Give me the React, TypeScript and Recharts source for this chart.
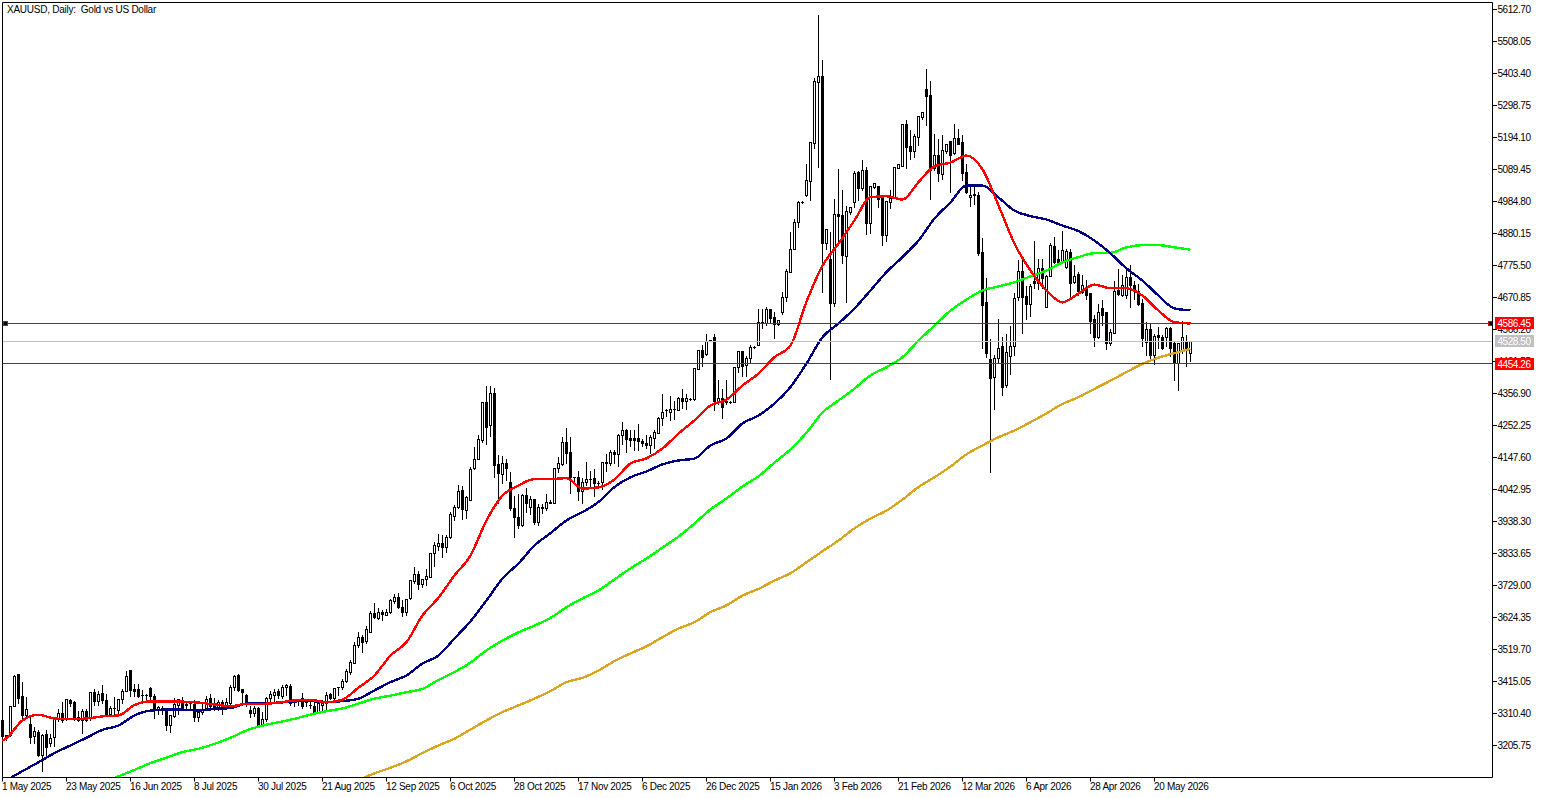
import { Bar, ComposedChart, Line, ReferenceLine, XAxis, YAxis } from "recharts";

const opens = [
  3287,3238,3238,3334,3437,3366,3304,3274,3235,3247,
  3173,3241,3213,3231,3293,3312,3293,3353,3347,3298,
  3287,3318,3293,3380,3351,3375,3353,3307,3326,3320,
  3355,3383,3451,3388,3388,3370,3370,3393,3367,3323,
  3323,3326,3271,3300,3336,3353,3336,3342,3340,3298,
  3315,3326,3361,3342,3329,3345,3336,3342,3394,3435,
  3388,3369,3320,3311,3328,3274,3290,3361,3369,3383,
  3366,3396,3399,3355,3351,3361,3353,3336,3334,3315,
  3336,3342,3372,3361,3393,3396,3416,3446,3475,3533,
  3560,3547,3576,3636,3620,3640,3631,3642,3678,3689,
  3656,3640,3686,3742,3764,3732,3749,3756,3833,3858,
  3865,3854,3887,3955,3983,4040,3974,4007,4110,4142,
  4203,4329,4252,4356,4125,4092,4127,4067,3980,3950,
  3925,4023,3985,4009,3936,3980,3980,4002,3996,4111,
  4125,4196,4163,4083,4081,4037,4067,4075,4078,4062,
  4067,4127,4127,4165,4156,4220,4236,4209,4209,4209,
  4201,4195,4187,4211,4227,4274,4299,4296,4303,4301,
  4339,4332,4337,4337,4437,4497,4484,4530,4539,4332,
  4339,4331,4329,4329,4443,4494,4448,4470,4507,4514,
  4590,4585,4630,4604,4583,4621,4670,4754,4827,4915,
  4983,5004,5051,5176,5375,5394,4846,4794,4652,4941,
  4939,4806,4950,4983,5081,5026,5086,4914,5029,5034,
  4996,4874,4983,4999,5094,5100,5235,5165,5149,5195,
  5258,5350,5331,5092,5134,5073,5149,5180,5143,5190,
  5177,5079,4997,5004,5004,4817,4653,4467,4410,4470,
  4511,4383,4479,4512,4670,4756,4674,4648,4723,4718,
  4765,4637,4740,4838,4794,4790,4768,4819,4721,4745,
  4688,4696,4683,4598,4541,4634,4621,4522,4554,4694,
  4677,4677,4735,4710,4692,4650,4525,4565,4481,4547,
  4541,4541,4568,4522,4456,4498,4523,4487,
];

const highs = [
  3290,3238,3336,3437,3437,3413,3364,3304,3266,3257,
  3242,3257,3244,3298,3326,3347,3358,3358,3350,3318,
  3326,3326,3382,3391,3385,3402,3375,3336,3364,3358,
  3391,3449,3451,3407,3407,3388,3375,3396,3375,3336,
  3336,3326,3307,3361,3358,3364,3351,3347,3353,3320,
  3342,3369,3375,3361,3353,3353,3361,3402,3435,3440,
  3391,3375,3336,3336,3331,3315,3364,3385,3391,3391,
  3402,3407,3407,3358,3358,3377,3358,3355,3353,3353,
  3353,3380,3377,3393,3396,3424,3457,3486,3544,3576,
  3566,3598,3647,3671,3656,3650,3653,3685,3702,3705,
  3680,3685,3748,3789,3776,3751,3784,3835,3871,3896,
  3893,3893,3969,3991,4059,4056,4023,4118,4181,4220,
  4329,4380,4380,4375,4157,4151,4143,4100,4023,4029,
  4027,4048,4023,4012,3996,3996,4027,4007,4114,4149,
  4214,4245,4214,4085,4105,4081,4132,4105,4111,4072,
  4132,4160,4173,4173,4225,4265,4241,4236,4236,4258,
  4209,4220,4220,4236,4279,4354,4307,4350,4334,4345,
  4372,4356,4343,4441,4500,4514,4550,4532,4550,4402,
  4372,4402,4334,4445,4497,4497,4481,4514,4511,4632,
  4634,4641,4634,4623,4598,4688,4765,4884,4928,4988,
  4988,5108,5179,5389,5596,5448,4892,4884,4994,5092,
  5024,4970,4968,5086,5084,5119,5099,5037,5045,5037,
  4999,4988,5021,5099,5108,5237,5250,5217,5206,5266,
  5279,5419,5380,5206,5190,5201,5173,5182,5237,5222,
  5201,5108,5037,5032,5015,4866,4735,4536,4484,4601,
  4543,4552,4579,4685,4792,4797,4710,4716,4855,4797,
  4797,4743,4849,4870,4827,4888,4830,4830,4776,4754,
  4743,4729,4685,4612,4650,4663,4623,4568,4724,4765,
  4743,4765,4776,4726,4716,4667,4590,4587,4552,4574,
  4547,4576,4576,4525,4522,4594,4547,4530,
];

const lows = [
  3222,3222,3235,3331,3342,3282,3298,3211,3211,3167,
  3118,3173,3200,3200,3282,3279,3287,3331,3287,3282,
  3242,3282,3287,3336,3336,3342,3304,3300,3298,3304,
  3340,3380,3364,3364,3361,3347,3353,3353,3293,3307,
  3307,3252,3246,3296,3304,3320,3323,3326,3282,3282,
  3307,3320,3320,3320,3320,3304,3331,3336,3383,3380,
  3342,3331,3296,3298,3263,3268,3282,3347,3347,3358,
  3358,3369,3336,3331,3336,3326,3331,3326,3307,3311,
  3320,3320,3355,3353,3369,3386,3410,3435,3471,3525,
  3508,3538,3576,3620,3617,3612,3628,3636,3667,3653,
  3625,3628,3682,3734,3715,3721,3726,3754,3791,3843,
  3818,3835,3882,3939,3980,3944,3947,4005,4107,4138,
  4194,4187,4216,4081,3996,4061,4072,3974,3885,3914,
  3920,3966,3961,3928,3925,3963,3974,3994,3994,4096,
  4121,4127,4029,4062,4005,3994,4053,4051,4020,4051,
  4040,4100,4121,4127,4118,4190,4162,4181,4170,4170,
  4181,4176,4160,4176,4225,4252,4279,4266,4269,4299,
  4307,4303,4332,4334,4434,4445,4481,4525,4299,4318,
  4274,4318,4323,4325,4423,4412,4412,4452,4501,4512,
  4568,4579,4585,4536,4579,4615,4656,4754,4825,4898,
  4975,4999,4988,5157,5094,4685,4827,4402,4641,4846,
  4779,4652,4942,4964,4988,5018,4874,4879,5026,4964,
  4839,4852,4959,4997,5092,5097,5092,5119,5128,5166,
  5250,5233,4991,5086,5048,5056,5141,5012,5138,5168,
  5053,5008,4966,4972,4805,4503,4474,4096,4304,4456,
  4348,4374,4416,4478,4661,4552,4596,4607,4699,4696,
  4699,4637,4737,4779,4781,4786,4765,4663,4716,4677,
  4683,4663,4550,4509,4536,4579,4500,4511,4552,4677,
  4672,4667,4637,4663,4642,4509,4481,4465,4449,4503,
  4500,4509,4476,4399,4365,4487,4445,4459,
];

const closes = [
  3235,3233,3333,3432,3358,3304,3322,3233,3252,3173,
  3238,3200,3230,3291,3312,3287,3355,3342,3296,3287,
  3318,3287,3380,3351,3371,3353,3307,3326,3323,3355,
  3383,3431,3385,3383,3367,3369,3369,3367,3325,3331,
  3328,3271,3304,3339,3355,3326,3340,3339,3298,3315,
  3322,3355,3334,3323,3345,3326,3347,3396,3432,3385,
  3380,3342,3311,3328,3271,3290,3361,3372,3380,3369,
  3396,3402,3342,3347,3355,3334,3347,3333,3312,3342,
  3344,3369,3358,3391,3394,3415,3448,3476,3533,3558,
  3544,3584,3636,3623,3640,3633,3642,3680,3689,3658,
  3642,3683,3745,3764,3732,3748,3760,3833,3860,3865,
  3854,3887,3961,3983,4037,3976,4016,4107,4140,4205,
  4326,4247,4356,4121,4096,4127,4111,3980,3950,3925,
  4023,3998,4009,3936,3983,3985,4002,3998,4111,4127,
  4196,4162,4081,4082,4037,4067,4075,4074,4064,4061,
  4130,4132,4163,4156,4220,4236,4206,4203,4203,4200,
  4194,4187,4212,4228,4274,4296,4300,4303,4301,4339,
  4332,4339,4336,4440,4497,4476,4528,4528,4331,4339,
  4310,4326,4328,4443,4494,4445,4473,4506,4506,4590,
  4585,4630,4603,4583,4596,4670,4756,4827,4915,4980,
  4982,5052,5177,5376,5394,4846,4892,4650,4941,4936,
  4808,4952,4964,5078,5028,5086,4914,5034,5043,4990,
  4874,4985,4994,5095,5105,5235,5162,5149,5197,5263,
  5277,5328,5086,5134,5075,5152,5171,5136,5190,5171,
  5077,5015,5004,5008,4814,4645,4489,4405,4470,4503,
  4378,4490,4511,4667,4756,4672,4647,4707,4718,4765,
  4732,4740,4841,4786,4786,4825,4822,4716,4740,4692,
  4710,4677,4593,4541,4621,4612,4522,4555,4691,4681,
  4710,4735,4710,4692,4647,4538,4565,4481,4543,4541,
  4503,4568,4505,4456,4519,4539,4503,4528,
];

// moving averages, read every 4th bar (first two are bars 0 and 1)
const maRed = [
  3222,3230,3288,3306,3294,3292,3294,3301,3304,3338,
  3350,3350,3349,3346,3340,3334,3342,3342,3346,3353,
  3355,3347,3356,3395,3435,3500,3544,3631,3689,3762,
  3827,3942,4023,4056,4077,4077,4080,4046,4050,4076,
  4128,4145,4177,4226,4269,4318,4337,4383,4422,4476,
  4514,4657,4775,4847,4923,4999,5002,4991,5048,5100,
  5112,5135,5090,4972,4847,4759,4694,4655,4684,4713,
  4701,4701,4677,4628,4590,4586,
];

const maBlue = [
  null,3092,3122,3151,3181,3206,3231,3257,3271,3304,
  3320,3323,3323,3320,3326,3328,3343,3344,3346,3350,
  3351,3347,3351,3359,3386,3413,3435,3474,3500,3556,
  3612,3680,3752,3801,3860,3900,3942,3969,4002,4051,
  4083,4102,4125,4138,4144,4187,4210,4259,4285,4324,
  4378,4455,4541,4586,4635,4694,4754,4803,4857,4929,
  4982,5037,5037,4998,4955,4937,4926,4906,4888,4857,
  4815,4766,4726,4677,4635,4629,
];

const maGreen = [
  null,null,null,null,null,null,null,3082,3105,3126,
  3148,3166,3184,3195,3211,3231,3255,3271,3282,3293,
  3307,3318,3327,3343,3359,3369,3380,3391,3420,3446,
  3477,3517,3549,3576,3598,3623,3658,3687,3713,3749,
  3785,3817,3853,3889,3932,3978,4014,4053,4086,4131,
  4174,4229,4295,4334,4373,4416,4443,4476,4530,4579,
  4628,4664,4694,4707,4721,4740,4759,4786,4803,4816,
  4817,4835,4842,4842,4835,4827,
];

const maGold = [
  null,null,null,null,null,null,null,null,null,null,
  null,null,null,null,null,null,null,null,null,null,
  null,null,null,3092,3115,3133,3154,3181,3206,3228,
  3258,3288,3315,3337,3359,3384,3413,3427,3451,3482,
  3507,3530,3560,3588,3609,3642,3664,3696,3718,3745,
  3769,3805,3841,3876,3916,3948,3974,4010,4051,4083,
  4118,4158,4187,4214,4236,4263,4292,4323,4345,4372,
  4399,4427,4454,4474,4489,4503,
];

const priceTicks = [
  5612.7,5508.05,5403.4,5298.75,5194.1,5089.45,4984.8,4880.15,4775.5,4670.85,4566.2,4461.55,
  4356.9,4252.25,4147.6,4042.95,3938.3,3833.65,3729,3624.35,3519.7,3415.05,3310.4,3205.75,
];

// current price tags, drawn last so they sit over the ordinary ticks
const tagPrices = [4586.45, 4528.5, 4454.26];
const tagFills = ["#ff0000", "#c0c0c0", "#ff0000"];

const dateTicks = [0,16,32,48,64,80,96,112,128,144,160,176,192,208,224,240,256,272,288];
const dateLabels = [
  "1 May 2025","23 May 2025","16 Jun 2025","8 Jul 2025","30 Jul 2025","21 Aug 2025","12 Sep 2025",
  "6 Oct 2025","28 Oct 2025","17 Nov 2025","6 Dec 2025","26 Dec 2025","15 Jan 2026","3 Feb 2026",
  "21 Feb 2026","12 Mar 2026","6 Apr 2026","28 Apr 2026","20 May 2026",
];

const FONT = "'Liberation Sans', Arial, sans-serif";

const maSlot = (i: number) => (i === 0 ? 0 : i % 4 === 1 ? (i + 3) / 4 : -1);

const rows = opens.map((open, i) => {
  const slot = maSlot(i);
  return {
    i,
    open,
    high: highs[i],
    low: lows[i],
    close: closes[i],
    red: slot >= 0 ? maRed[slot] : null,
    blue: slot >= 0 ? maBlue[slot] : null,
    green: slot >= 0 ? maGreen[slot] : null,
    gold: slot >= 0 ? maGold[slot] : null,
  };
});

function Candle(props: any) {
  const { x, y, width, height, payload } = props;
  const { open, close, high, low } = payload;
  const toY = (p: number) => y + ((high - p) / (high - low)) * height;
  const cx = x + width / 2;
  const top = toY(Math.max(open, close));
  const bottom = toY(Math.min(open, close));
  const up = close >= open;
  return (
    <g shapeRendering="crispEdges">
      <line x1={cx} x2={cx} y1={y} y2={y + height} stroke="#000" strokeWidth={1} />
      {bottom - top < 1 ? (
        <line x1={cx - 1.5} x2={cx + 1.5} y1={top} y2={top} stroke="#000" strokeWidth={1} />
      ) : (
        <rect x={cx - 1} y={top} width={2} height={bottom - top} fill={up ? "#fff" : "#000"} stroke="#000" strokeWidth={1} />
      )}
    </g>
  );
}

function PriceTick({ x, y, payload }: any) {
  const tag = tagPrices.indexOf(payload.value);
  if (tag >= 0) {
    return (
      <g>
        <rect x={x - 2.5} y={Math.round(y) - 6} width={39} height={12} fill={tagFills[tag]} shapeRendering="crispEdges" />
        <text x={x} y={Math.round(y) + 4} fontSize={10} fontFamily={FONT} letterSpacing={-0.45} fill="#fff">
          {payload.value.toFixed(2)}
        </text>
      </g>
    );
  }
  return (
    <g>
      <line x1={x - 5} x2={x - 1} y1={y} y2={y} stroke="#000" shapeRendering="crispEdges" />
      <text x={x} y={y + 3.5} fontSize={10} fontFamily={FONT} letterSpacing={-0.45} fill="#000">
        {payload.value.toFixed(2)}
      </text>
    </g>
  );
}

function DateTick({ x, y, payload }: any) {
  return (
    <text x={x - 0.5} y={y + 8} fontSize={10} fontFamily={FONT} letterSpacing={-0.3} fill="#000">
      {dateLabels[dateTicks.indexOf(payload.value)]}
    </text>
  );
}

function EdgeMarkers({ viewBox }: any) {
  const right = viewBox.x + viewBox.width;
  const cy = viewBox.y;
  return (
    <g shapeRendering="crispEdges">
      <rect x={right - 4} y={cy - 2} width={4} height={4} fill="#000" stroke="#e00000" />
      <rect x={viewBox.x + 0.5} y={cy - 2} width={4} height={4} fill="#000" stroke="#e00000" />
    </g>
  );
}

const lineProps = {
  type: "monotone" as const,
  strokeWidth: 2.4,
  dot: false,
  connectNulls: true,
  isAnimationActive: false,
  shapeRendering: "crispEdges",
};

export default function App() {
  return (
    <div style={{ position: "absolute", left: 0, top: 0, width: 1545, height: 798, background: "#fff" }}>
      <ComposedChart
        width={1545}
        height={798}
        data={rows}
        margin={{ top: 2.5, right: 0, left: 2.5, bottom: 0 }}
      >
        <XAxis
          dataKey="i"
          type="number"
          domain={[0, 372.5]}
          ticks={dateTicks}
          interval={0}
          height={20.5}
          tickSize={4}
          tickMargin={0}
          stroke="#000"
          tick={<DateTick />}
        />
        <YAxis
          orientation="right"
          type="number"
          domain={[3101.1, 5635.6]}
          allowDataOverflow
          ticks={[...priceTicks, ...tagPrices]}
          interval={0}
          width={52.5}
          tickSize={4}
          tickMargin={1}
          tickLine={false}
          stroke="#000"
          tick={<PriceTick />}
        />
        <ReferenceLine x={0} stroke="#000" />
        <ReferenceLine y={5635.6} stroke="#000" />
        <Bar dataKey={(d: any) => [d.low, d.high]} barSize={3} shape={<Candle />} isAnimationActive={false} />
        <Line dataKey="gold" stroke="#daa520" {...lineProps} />
        <Line dataKey="green" stroke="#00ff00" {...lineProps} />
        <Line dataKey="blue" stroke="#000080" {...lineProps} />
        <Line dataKey="red" stroke="#ff0000" {...lineProps} />
        <ReferenceLine y={4586.45} stroke="#e00000" shapeRendering="crispEdges" label={EdgeMarkers} />
        <ReferenceLine y={4528.5} stroke="#c0c0c0" shapeRendering="crispEdges" />
        <ReferenceLine y={4454.26} stroke="#e00000" shapeRendering="crispEdges" />
      </ComposedChart>
      <div style={{ position: "absolute", left: 7, top: 3.5, fontFamily: FONT, fontSize: 10, letterSpacing: -0.25, lineHeight: "12px", whiteSpace: "pre", color: "#000" }}>
        XAUUSD, Daily:  Gold vs US Dollar
      </div>
    </div>
  );
}
